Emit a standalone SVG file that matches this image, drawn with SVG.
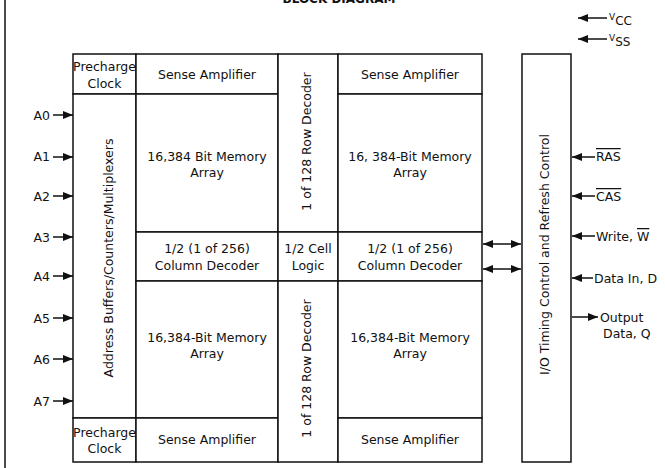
<svg xmlns="http://www.w3.org/2000/svg" width="665" height="468" viewBox="0 0 665 468">
<style>
.b{fill:#fff;stroke:#111;stroke-width:1.5}
.t{font-family:"DejaVu Sans",sans-serif;font-size:12.5px;fill:#111;text-anchor:middle}
.l{font-family:"DejaVu Sans",sans-serif;font-size:12.5px;fill:#111}
.c{stroke:#111;stroke-width:1.5;fill:none}
</style>
<defs>
<marker id="ah" markerUnits="userSpaceOnUse" markerWidth="10" markerHeight="8" refX="10" refY="4" orient="auto-start-reverse">
<path d="M0,0 L10,4 L0,8 z" fill="#111"/>
</marker>
</defs>
<rect width="665" height="468" fill="#fff"/>
<line x1="5" y1="0" x2="5" y2="468" class="c"/>
<text x="339" y="3" class="t" style="font-weight:bold;font-size:12px">BLOCK DIAGRAM</text>

<g id="precharge-top"><rect class="b" x="73" y="54" width="63" height="40"/><text class="t" x="104.5" y="71">Precharge</text><text class="t" x="104.5" y="88">Clock</text></g>
<g id="addr-buffers"><rect class="b" x="73" y="94" width="63" height="324"/><text class="t" transform="translate(113,258) rotate(-90)">Address Buffers/Counters/Multiplexers</text></g>
<g id="precharge-bottom"><rect class="b" x="73" y="418" width="63" height="44"/><text class="t" x="104.5" y="437">Precharge</text><text class="t" x="104.5" y="453">Clock</text></g>

<g id="sense-tl"><rect class="b" x="136" y="54" width="142" height="40"/><text class="t" x="207" y="79">Sense Amplifier</text></g>
<g id="mem-tl"><rect class="b" x="136" y="94" width="142" height="138"/><text class="t" x="207" y="161">16,384 Bit Memory</text><text class="t" x="207" y="177">Array</text></g>
<g id="coldec-l"><rect class="b" x="136" y="232" width="142" height="49"/><text class="t" x="207" y="253">1/2 (1 of 256)</text><text class="t" x="207" y="270">Column Decoder</text></g>
<g id="mem-bl"><rect class="b" x="136" y="281" width="142" height="137"/><text class="t" x="207" y="342">16,384-Bit Memory</text><text class="t" x="207" y="358">Array</text></g>
<g id="sense-bl"><rect class="b" x="136" y="418" width="142" height="44"/><text class="t" x="207" y="444">Sense Amplifier</text></g>

<g id="rowdec-top"><rect class="b" x="278" y="54" width="60" height="178"/><text class="t" transform="translate(311,141.5) rotate(-90)">1 of 128 Row Decoder</text></g>
<g id="cell-logic"><rect class="b" x="278" y="232" width="60" height="49"/><text class="t" x="308" y="253">1/2 Cell</text><text class="t" x="308" y="270">Logic</text></g>
<g id="rowdec-bottom"><rect class="b" x="278" y="281" width="60" height="181"/><text class="t" transform="translate(311,368.5) rotate(-90)">1 of 128 Row Decoder</text></g>

<g id="sense-tr"><rect class="b" x="338" y="54" width="144" height="40"/><text class="t" x="410" y="79">Sense Amplifier</text></g>
<g id="mem-tr"><rect class="b" x="338" y="94" width="144" height="138"/><text class="t" x="410" y="161">16, 384-Bit Memory</text><text class="t" x="410" y="177">Array</text></g>
<g id="coldec-r"><rect class="b" x="338" y="232" width="144" height="49"/><text class="t" x="410" y="253">1/2 (1 of 256)</text><text class="t" x="410" y="270">Column Decoder</text></g>
<g id="mem-br"><rect class="b" x="338" y="281" width="144" height="137"/><text class="t" x="410" y="342">16,384-Bit Memory</text><text class="t" x="410" y="358">Array</text></g>
<g id="sense-br"><rect class="b" x="338" y="418" width="144" height="44"/><text class="t" x="410" y="444">Sense Amplifier</text></g>

<g id="io-control"><rect class="b" x="522" y="54" width="49" height="408"/><text class="t" transform="translate(549,254.5) rotate(-90)">I/O Timing Control and Refresh Control</text></g>

<g id="labels">
<text class="l" x="50" y="120" text-anchor="end">A0</text>
<text class="l" x="50" y="161" text-anchor="end">A1</text>
<text class="l" x="50" y="201" text-anchor="end">A2</text>
<text class="l" x="50" y="242" text-anchor="end">A3</text>
<text class="l" x="50" y="281" text-anchor="end">A4</text>
<text class="l" x="50" y="323" text-anchor="end">A5</text>
<text class="l" x="50" y="364" text-anchor="end">A6</text>
<text class="l" x="50" y="406" text-anchor="end">A7</text>
<text class="l" x="609" y="20" style="font-size:9px">V<tspan dy="5" style="font-size:12px">CC</tspan></text>
<text class="l" x="609" y="41" style="font-size:9px">V<tspan dy="5" style="font-size:12px">SS</tspan></text>
<text class="l" x="596" y="161" text-decoration="overline">RAS</text>
<text class="l" x="596" y="201" text-decoration="overline">CAS</text>
<text class="l" x="596" y="241">Write, <tspan text-decoration="overline">W</tspan></text>
<text class="l" x="594" y="283">Data In, D</text>
<text class="l" x="600" y="322">Output</text>
<text class="l" x="603" y="338">Data, Q</text>
</g>

<g id="connectors" class="c" marker-end="url(#ah)">
<line x1="53" y1="115" x2="73" y2="115"/>
<line x1="53" y1="157" x2="73" y2="157"/>
<line x1="53" y1="196" x2="73" y2="196"/>
<line x1="53" y1="237" x2="73" y2="237"/>
<line x1="53" y1="276" x2="73" y2="276"/>
<line x1="53" y1="318" x2="73" y2="318"/>
<line x1="53" y1="359" x2="73" y2="359"/>
<line x1="53" y1="401" x2="73" y2="401"/>
<line x1="607" y1="18" x2="578" y2="18"/>
<line x1="607" y1="39" x2="578" y2="39"/>
<line x1="595" y1="157" x2="572" y2="157"/>
<line x1="595" y1="196" x2="572" y2="196"/>
<line x1="595" y1="236" x2="572" y2="236"/>
<line x1="593" y1="278" x2="572" y2="278"/>
<line x1="572" y1="317" x2="598" y2="317"/>
<line x1="483" y1="244" x2="521" y2="244" marker-start="url(#ah)"/>
<line x1="483" y1="269" x2="521" y2="269" marker-start="url(#ah)"/>
</g>
</svg>
